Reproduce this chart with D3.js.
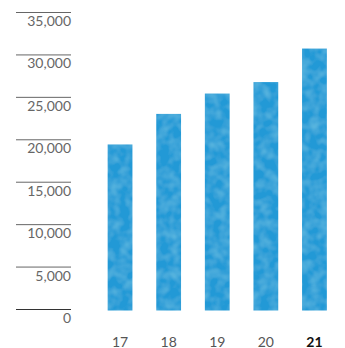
<!DOCTYPE html>
<html>
<head>
<meta charset="utf-8">
<script src="https://cdn.jsdelivr.net/npm/d3@7"></script>
<style>
    body { margin: 0; background: #fff; }
    text { font-family: Lato, "Open Sans", sans-serif; }
</style>
</head>
<body>
<div id="wrapper"></div>
<script>
const years = ["17", "18", "19", "20", "21"]
const values = [19450, 23050, 25450, 26800, 30750]
const tickValues = [0, 5000, 10000, 15000, 20000, 25000, 30000, 35000]

window.addEventListener("load", paint)

function paint() {
    const width = 345, height = 348

    const svg = d3.select("#wrapper")
        .append("svg")
            .attr("width", width)
            .attr("height", height)

    // mottled texture for the bars
    const defs = svg.append("defs")
    const filter = defs.append("filter").attr("id", "mottle")
        .attr("x", 0).attr("y", 0).attr("width", 1).attr("height", 1)
    filter.append("feTurbulence")
        .attr("type", "fractalNoise").attr("baseFrequency", 0.1)
        .attr("numOctaves", 2).attr("seed", 5).attr("result", "noise")
    filter.append("feColorMatrix").attr("in", "noise").attr("type", "matrix")
        .attr("values", "0 0 0 0 0.12  0 0 0 0 0.5  0 0 0 0 0.75  1.4 0 0 0 -0.5")
        .attr("result", "tint")
    filter.append("feComposite").attr("in", "tint").attr("in2", "SourceGraphic")
        .attr("operator", "atop")

    const y = d3.scaleLinear().domain([0, 35000]).range([309.5, 12.5])
    const x = d3.scaleBand().domain(years).range([95.5, 339])
        .paddingInner(0.49).paddingOuter(0.25)

    // gridlines with labels hanging below them
    const ticks = svg.append("g")
    ticks.selectAll("line").data(tickValues).join("line")
        .attr("x1", 16).attr("x2", 71)
        .attr("y1", d => y(d)).attr("y2", d => y(d))
        .attr("stroke", d => d === 0 ? "#333" : "#666")
        .attr("stroke-width", 1)
    ticks.selectAll("text").data(tickValues).join("text")
        .attr("x", 71).attr("y", d => y(d) + 13.5)
        .attr("text-anchor", "end")
        .attr("font-size", 14)
        .attr("fill", "#666")
        .text(d => d3.format(",")(d))

    svg.append("g").selectAll("rect").data(values).join("rect")
        .attr("x", (d, i) => x(years[i]))
        .attr("width", x.bandwidth())
        .attr("y", d => y(d))
        .attr("height", d => y(0) - y(d) + 1)
        .attr("fill", "#2299d6")
        .attr("filter", "url(#mottle)")

    svg.append("g").selectAll("text").data(years).join("text")
        .attr("x", d => x(d) + x.bandwidth() / 2)
        .attr("y", 346.5)
        .attr("text-anchor", "middle")
        .attr("font-size", 14)
        .attr("font-weight", (d, i) => i === years.length - 1 ? "bold" : "normal")
        .attr("fill", (d, i) => i === years.length - 1 ? "#111" : "#555")
        .text(d => d)
}
</script>
</body>
</html>
